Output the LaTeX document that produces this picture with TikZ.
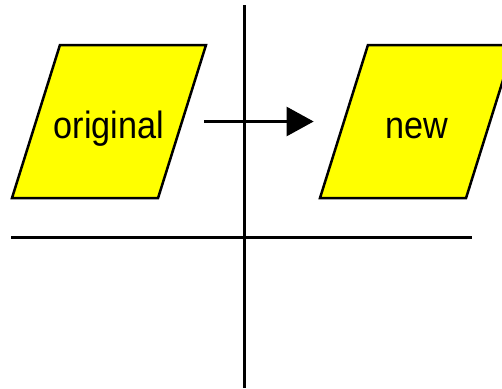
\documentclass[tikz,border=0pt]{standalone}
\usepackage{fontspec}
\setmainfont{Liberation Sans}[FakeStretch=0.9]
\usetikzlibrary{shapes.geometric, arrows.meta}
\definecolor{boxyellow}{RGB}{255,255,0}
\tikzset{
  databox/.style={
    trapezium,
    trapezium left angle=72.6,
    trapezium right angle=107.4,
    trapezium stretches body=true,
    draw=black,
    fill=boxyellow,
    line width=2.5pt,
    minimum width=194pt,
    text height=93pt,
    text depth=60pt,
    inner ysep=0pt,
    inner xsep=-12pt,
    font=\fontsize{38}{44}\selectfont
  },
  movearrow/.style={
    -{Triangle[length=27pt,width=29pt]},
    line width=2.5pt
  },
  divider/.style={
    line width=3pt
  }
}

\begin{document}
\begin{tikzpicture}[x=1pt, y=-1pt]
  \clip (0,0) rectangle (502,388);

  % the two data boxes
  \node[databox] (original) at (109,121.5) {original};
  \node[databox] (new) at (417,121.5) {new};

  \draw[movearrow, shorten <=21pt, shorten >=29pt] (original.east) -- (new.west);

  % dividing lines
  \draw[divider] (244,5) -- (244,388);
  \draw[divider] (11,237) -- (472,237);
\end{tikzpicture}
\end{document}
